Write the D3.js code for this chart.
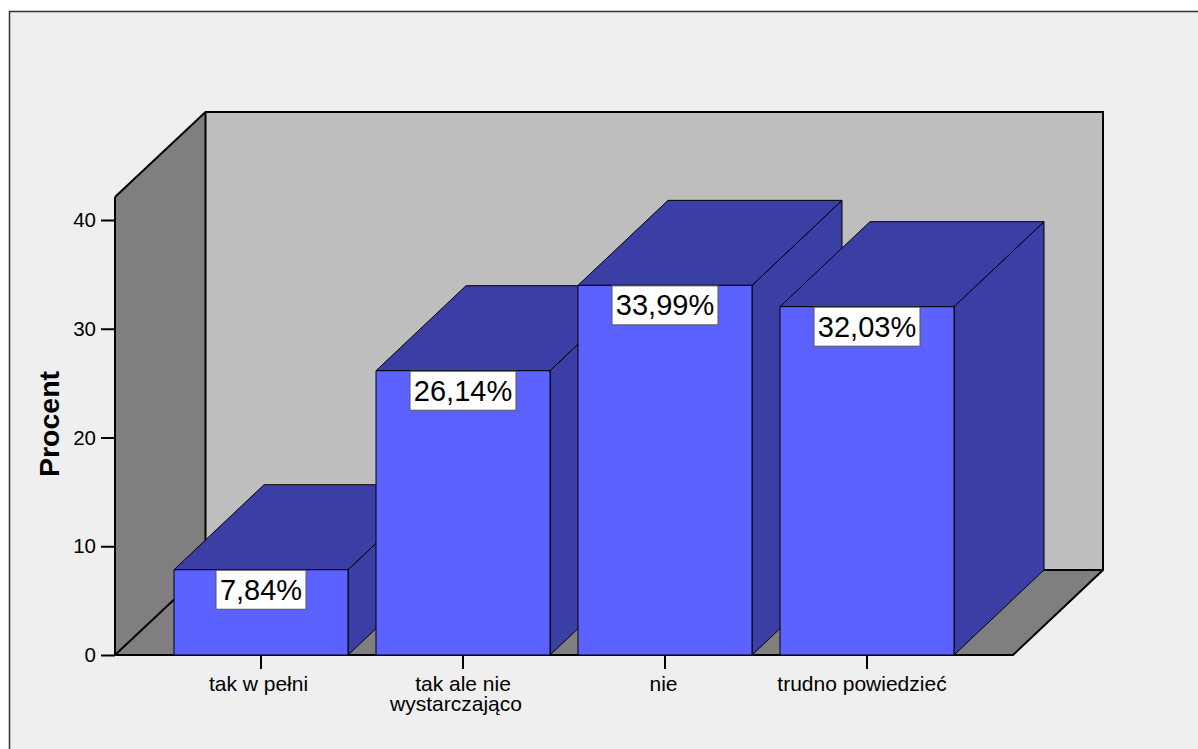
<!DOCTYPE html>
<html><head><meta charset="utf-8">
<script src="https://cdn.jsdelivr.net/npm/d3@7"></script>
<style>html,body{margin:0;padding:0;background:#fff}svg{display:block}text{font-family:"Liberation Sans",Arial,sans-serif;fill:#000}</style>
</head><body><svg id="c" width="1198" height="749"></svg>
<script>
const categories=["tak w pełni","tak ale nie|wystarczająco","nie","trudno powiedzieć"];
const values=[7.84,26.14,33.99,32.03];
const valueLabels=["7,84%","26,14%","33,99%","32,03%"];
const yTicks=[0,10,20,30,40];
const yTitle="Procent";

const svg=d3.select("#c");
const y=d3.scaleLinear().domain([0,40]).range([655,220]);
const x=d3.scaleBand().domain(categories).range([160,968]).paddingInner(28/202).paddingOuter(14/202);
const dx=90,dy=85;
const wallTop=112,wallL=205.5,wallR=1103,floorL=115,floorR=1013,y0=y(0);
const line=d3.line();

svg.append("rect").attr("x",9.5).attr("y",11.5).attr("width",1300).attr("height",800).attr("fill","#efefef").attr("stroke","#333").attr("stroke-width",1.5);

// walls and floor
svg.append("path").attr("d",line([[wallL,wallTop],[wallR,wallTop],[wallR,y0-dy],[wallL,y0-dy]])+"Z").attr("fill","#bebebe");
svg.append("path").attr("d",line([[floorL,wallTop+dy],[wallL,wallTop],[wallL,y0-dy],[floorL,y0]])+"Z").attr("fill","#7f7f7f");
svg.append("path").attr("d",line([[floorL,y0],[wallL,y0-dy],[wallR,y0-dy],[floorR,y0]])+"Z").attr("fill","#7f7f7f");
const frame=[[[floorL,wallTop+dy],[wallL,wallTop],[wallR,wallTop],[wallR,y0-dy],[floorR,y0],[floorL,y0],[floorL,wallTop+dy]],
 [[wallL,wallTop],[wallL,y0-dy]],[[floorL,y0],[wallL,y0-dy],[wallR,y0-dy]]];
frame.forEach(p=>svg.append("path").attr("d",line(p)).attr("fill","none").attr("stroke","#000").attr("stroke-width",2));

// bars
const bars=svg.selectAll("g.bar").data(categories).join("g").attr("class","bar");
bars.each(function(c,i){
  const g=d3.select(this),l=x(c),r=l+x.bandwidth(),t=y(values[i]);
  const st=s=>s.attr("stroke","#000").attr("stroke-width",1).attr("stroke-linejoin","round");
  st(g.append("path").attr("d",line([[r,t],[r+dx,t-dy],[r+dx,y0-dy],[r,y0]])+"Z").attr("fill","#3b3fa5"));
  st(g.append("path").attr("d",line([[l,t],[l+dx,t-dy],[r+dx,t-dy],[r,t]])+"Z").attr("fill","#3b3fa5"));
  st(g.append("rect").attr("x",l).attr("y",t).attr("width",x.bandwidth()).attr("height",y0-t).attr("fill","#5c62ff"));
});

// value labels
bars.each(function(c,i){
  const g=d3.select(this),cx=x(c)+x.bandwidth()/2,t=y(values[i]);
  const w=valueLabels[i].length===5?90:106;
  g.append("rect").attr("x",cx-w/2).attr("y",t+.5).attr("width",w).attr("height",39)
    .attr("fill","#fff").attr("stroke","#555").attr("stroke-width",1);
  g.append("text").attr("x",cx).attr("y",t+30).attr("text-anchor","middle").attr("font-size",29).text(valueLabels[i]);
});

// y axis
const ya=svg.append("g").attr("transform",`translate(${floorL},0)`).call(d3.axisLeft(y).tickValues(yTicks).tickSize(14).tickPadding(5).tickFormat(d3.format("d")));
ya.select(".domain").remove();
ya.selectAll("line").attr("stroke","#000").attr("stroke-width",2);
ya.selectAll("text").attr("font-size",20.5).style("font-family",'"Liberation Sans",Arial,sans-serif');

// x axis
const xa=svg.append("g").attr("transform",`translate(0,${y0})`).call(d3.axisBottom(x).tickSize(14).tickFormat(""));
xa.select(".domain").remove();
xa.selectAll("line").attr("stroke","#000").attr("stroke-width",2);
const labelShift=[[-2.5],[0,-7],[-1.5],[-5]];
categories.forEach((c,i)=>{
  const t=svg.append("text").attr("y",691).attr("text-anchor","middle").attr("font-size",21);
  c.split("|").forEach((s,j)=>{
    t.append("tspan").attr("x",x(c)+x.bandwidth()/2+labelShift[i][j]).attr("y",691+j*20).text(s);
  });
});

svg.append("text").attr("transform","translate(59,424) rotate(-90)").attr("text-anchor","middle").attr("font-size",28.5).attr("font-weight","bold").text(yTitle);
</script></body></html>
